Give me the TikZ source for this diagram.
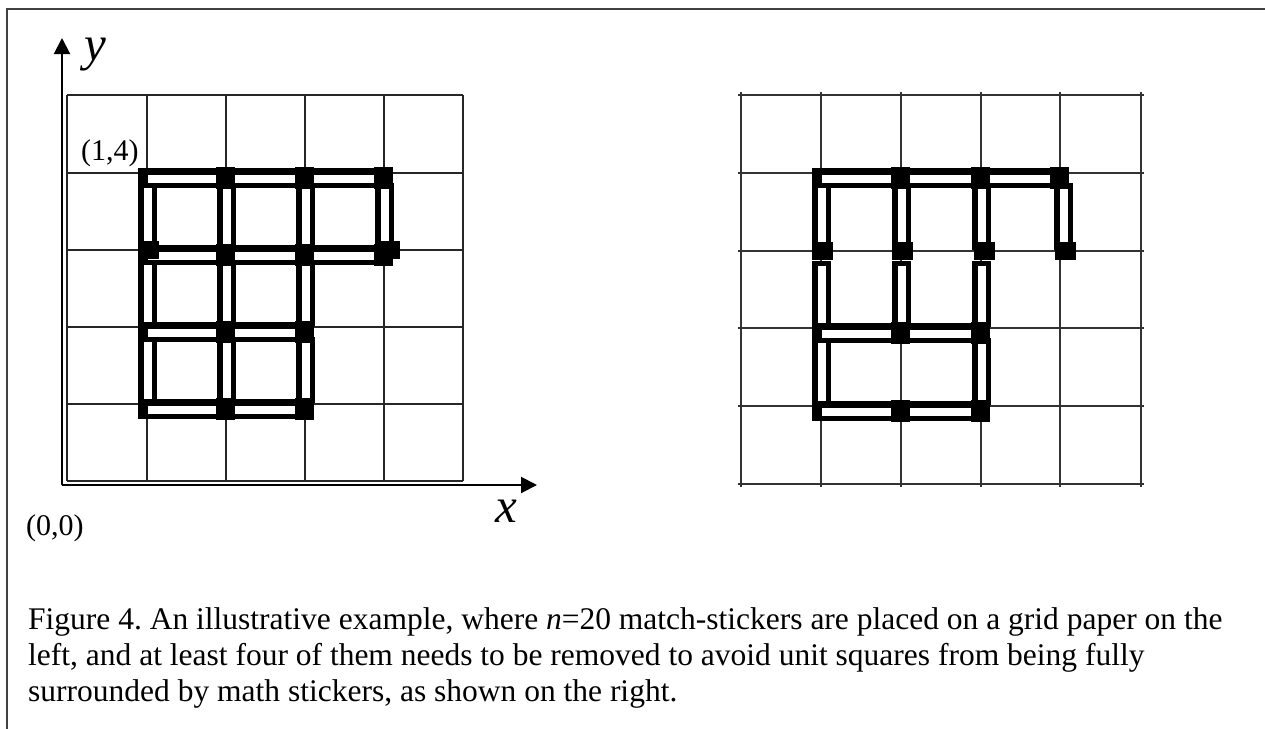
\documentclass[tikz,border=0pt]{standalone}
\usepackage{fontspec}
\setmainfont{Liberation Serif}
\usetikzlibrary{arrows.meta}
\frenchspacing
\newcommand\mhstick[3]{% #1 = left x, #2 = right x, #3 = row y
  \fill[black] (#1-9,#3-5) rectangle (#2+9,#3+15);
  \fill[white] (#1+1,#3+1.5) rectangle (#2-10,#3+9.5);}
\newcommand\mvstick[3]{% #1 = x, #2 = upper row y, #3 = lower row y
  \fill[black] (#1-9,#2+10) rectangle (#1+10,#3-1);
  \fill[white] (#1-3.5,#2+15) rectangle (#1+4.5,#3-5);}
\newcommand\mhhead[2]{\fill[black] (#1-10,#2-6) rectangle (#1+9,#2+16);}
\newcommand\mvhead[2]{\fill[black] (#1-9,#2-9) rectangle (#1+12,#2+9);}
\tikzset{
  gridL/.style={line width=2pt, black!85},
  gridR/.style={line width=1.2pt, black!80},
  axis/.style={line width=2pt, black, -{Triangle[length=16pt,width=16pt]}},
  frame/.style={line width=1.6pt, black!75},
  axlabel/.style={inner sep=0pt, anchor=base, font=\fontsize{49}{49}\selectfont\itshape},
  ptlabel/.style={inner sep=0pt, anchor=base west, font=\fontsize{30}{30}\selectfont},
  caption/.style={inner sep=0pt, anchor=base west, font=\fontsize{31.5}{36}\selectfont},
}
\begin{document}
\begin{tikzpicture}[x=1pt,y=-1pt]
\useasboundingbox (0,0) rectangle (1265,728);
% frame (top and left edges)
\draw[frame] (7,740) -- (7,9) -- (1275,9);
% left grid
\foreach \gx in {67,147,226,305,384,463} \draw[gridL] (\gx,95) -- (\gx,481);
\foreach \gy in {95,173,250,327,404,481} \draw[gridL] (67,\gy) -- (463,\gy);
% axes
\coordinate (O) at (62,485);
\coordinate (ytip) at (62,38);
\coordinate (xtip) at (537,485);
\draw[axis] (O) -- (ytip);
\draw[axis] (O) -- (xtip);
\node[axlabel] (ylab) at (95,60) {y};
\node[axlabel] (xlab) at (506,522) {x};
\node[ptlabel] (p14) at (81,160) {(1,4)};
\node[ptlabel] (p00) at (26,535) {(0,0)};
% left sticks: horizontal
\mhstick{147}{226}{173}\mhstick{226}{305}{173}\mhstick{305}{384}{173}
\mhstick{147}{226}{250}\mhstick{226}{305}{250}\mhstick{305}{384}{250}
\mhstick{147}{226}{327}\mhstick{226}{305}{327}
\mhstick{147}{226}{404}\mhstick{226}{305}{404}
% left sticks: vertical
\foreach \sx in {147,226,305}{
  \mvstick{\sx}{173}{250}\mvstick{\sx}{250}{327}\mvstick{\sx}{327}{404}}
\mvstick{384}{173}{250}
% left heads
\mhhead{226}{173}\mhhead{305}{173}\mhhead{384}{173}
\mhhead{226}{250}\mhhead{305}{250}\mhhead{384}{250}
\mhhead{226}{327}\mhhead{305}{327}
\mhhead{226}{404}\mhhead{305}{404}
\mvhead{147}{250}\mvhead{388}{250}
% right grid
\foreach \gx in {741,821,901,981,1060,1141} \draw[gridR] (\gx,92) -- (\gx,487);
\foreach \gy in {95,173,251,328,406,484} \draw[gridR] (738,\gy) -- (1144,\gy);
% right sticks: horizontal
\mhstick{821}{901}{173}\mhstick{901}{981}{173}\mhstick{981}{1060}{173}
\mhstick{821}{901}{328}\mhstick{901}{981}{328}
\mhstick{821}{901}{406}\mhstick{901}{981}{406}
% right sticks: vertical
\mvstick{821}{173}{251}\mvstick{821}{251}{328}\mvstick{821}{328}{406}
\mvstick{901}{173}{251}\mvstick{901}{251}{328}
\mvstick{981}{173}{251}\mvstick{981}{251}{328}\mvstick{981}{328}{406}
\mvstick{1063}{173}{251}
% right heads
\mhhead{901}{173}\mhhead{981}{173}\mhhead{1060}{173}
\mhhead{901}{328}\mhhead{981}{328}
\mhhead{901}{406}\mhhead{981}{406}
\mvhead{821}{251}\mvhead{901}{251}\mvhead{983}{251}\mvhead{1064}{251}
% caption
\node[caption] (cap1) at (28,629) {Figure 4. An illustrative example, where \textit{n}=20 match-stickers are placed on a grid paper on the};
\node[caption] (cap2) at (28,665) {left, and at least four of them needs to be removed to avoid unit squares from being fully};
\node[caption] (cap3) at (28,701) {surrounded by math stickers, as shown on the right.};
\end{tikzpicture}
\end{document}
